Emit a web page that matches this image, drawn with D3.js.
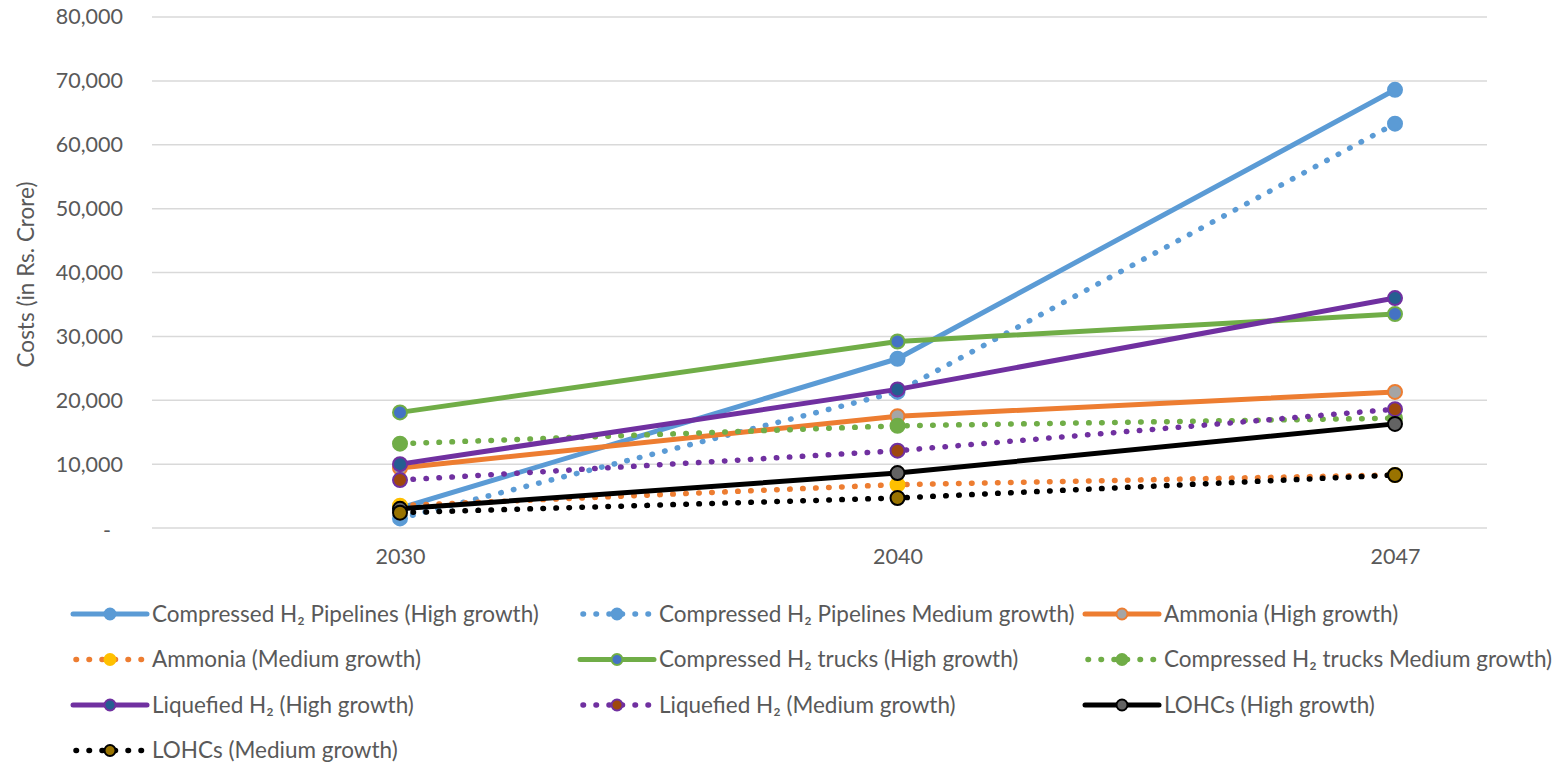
<!DOCTYPE html>
<html>
<head>
<meta charset="utf-8">
<script src="https://cdn.jsdelivr.net/npm/d3@7"></script>
<style>
  body { margin: 0; background: #fff; }
  text { font-family: Lato, "Noto Sans", "DejaVu Sans", sans-serif; fill: #595959; }
</style>
</head>
<body>
<div class="linechart"></div>
<script>
// data
const years = ["2030", "2040", "2047"];
const yTicks = [0, 10000, 20000, 30000, 40000, 50000, 60000, 70000, 80000];

const pipelinesHigh = [3100, 26500, 68600];
const pipelinesMed = [1500, 21300, 63300];
const ammoniaHigh = [9400, 17500, 21300];
const ammoniaMed = [3500, 6800, 8300];
const trucksHigh = [18100, 29200, 33500];
const trucksMed = [13200, 16000, 17200];
const liquefiedHigh = [10000, 21700, 36000];
const liquefiedMed = [7500, 12100, 18600];
const lohcHigh = [3000, 8600, 16300];
const lohcMed = [2400, 4700, 8300];

const seriesNames = [
  "Compressed H\u2082 Pipelines (High growth)",
  "Compressed H\u2082 Pipelines Medium growth)",
  "Ammonia (High growth)",
  "Ammonia (Medium growth)",
  "Compressed H\u2082 trucks (High growth)",
  "Compressed H\u2082 trucks Medium growth)",
  "Liquefied H\u2082 (High growth)",
  "Liquefied H\u2082 (Medium growth)",
  "LOHCs (High growth)",
  "LOHCs (Medium growth)"
];
const seriesValues = [pipelinesHigh, pipelinesMed, ammoniaHigh, ammoniaMed, trucksHigh,
  trucksMed, liquefiedHigh, liquefiedMed, lohcHigh, lohcMed];

// styles: line colour, marker fill, marker border, dotted?
const styles = [
  {c: "#5B9BD5", fill: "#5B9BD5", edge: "#5B9BD5", dot: false},
  {c: "#5B9BD5", fill: "#5B9BD5", edge: "#5B9BD5", dot: true},
  {c: "#ED7D31", fill: "#A5A5A5", edge: "#ED7D31", dot: false},
  {c: "#ED7D31", fill: "#FFC000", edge: "#FFC000", dot: true},
  {c: "#70AD47", fill: "#4472C4", edge: "#70AD47", dot: false},
  {c: "#70AD47", fill: "#70AD47", edge: "#70AD47", dot: true},
  {c: "#7030A0", fill: "#255E91", edge: "#7030A0", dot: false},
  {c: "#7030A0", fill: "#9E480E", edge: "#7030A0", dot: true},
  {c: "#000000", fill: "#636363", edge: "#000000", dot: false},
  {c: "#000000", fill: "#997300", edge: "#000000", dot: true}
];

const W = 1563, H = 765;
const plot = {left: 152, right: 1487, top: 17, bottom: 528};

const svg = d3.select(".linechart")
  .append("svg")
    .attr("width", W)
    .attr("height", H);

const x = d3.scalePoint()
  .domain(years)
  .range([400, 1395]);

const y = d3.scaleLinear()
  .domain([0, 80000])
  .range([plot.bottom, plot.top]);

// gridlines
svg.append("g")
  .selectAll("line")
  .data(yTicks)
  .enter()
  .append("line")
    .attr("x1", plot.left)
    .attr("x2", plot.right)
    .attr("y1", d => y(d))
    .attr("y2", d => y(d))
    .attr("stroke", "#D9D9D9")
    .attr("stroke-width", 1.5);

// Y axis labels
const yAxis = svg.append("g")
  .attr("transform", "translate(" + plot.left + ",0)")
  .call(d3.axisLeft(y).tickValues(yTicks).tickSize(0).tickPadding(29)
    .tickFormat(d => d === 0 ? "-" : d3.format(",")(d)));
yAxis.select(".domain").remove();
yAxis.selectAll("text")
  .style("font-size", "21.5px")
  .attr("fill", "#595959")
  .attr("dx", d => d === 0 ? -12 : 0)
  .attr("dy", d => d === 0 ? "0.45em" : "0.32em");

// X axis labels
const xAxis = svg.append("g")
  .attr("transform", "translate(0," + plot.bottom + ")")
  .call(d3.axisBottom(x).tickSize(0).tickPadding(21));
xAxis.select(".domain").remove();
xAxis.selectAll("text")
  .style("font-size", "21.5px")
  .attr("fill", "#595959");

// y axis title
svg.append("text")
  .attr("text-anchor", "middle")
  .attr("transform", "translate(34," + ((plot.top + plot.bottom) / 2 + 2) + ") rotate(-90)")
  .style("font-size", "22.5px")
  .text("Costs (in Rs. Crore)");

const line = d3.line()
  .x((d, i) => x(years[i]))
  .y(d => y(d));

function styleLine(sel, s) {
  sel.attr("fill", "none")
    .attr("stroke", s.c)
    .attr("stroke-width", s.dot ? 5.5 : 5)
    .attr("stroke-linecap", "round")
    .attr("stroke-linejoin", "round")
    .attr("stroke-dasharray", s.dot ? "0.5 12.5" : null);
}

function styleMarker(sel, s) {
  sel.attr("r", 7)
    .attr("fill", s.fill)
    .attr("stroke", s.edge)
    .attr("stroke-width", 2);
}

// lines and markers
seriesValues.forEach((vals, k) => {
  const s = styles[k];
  const g = svg.append("g");
  g.append("path")
    .datum(vals)
    .attr("d", line)
    .call(styleLine, s);
  g.selectAll("circle")
    .data(vals)
    .enter()
    .append("circle")
      .attr("cx", (d, i) => x(years[i]))
      .attr("cy", d => y(d))
      .call(styleMarker, s);
});

// legend, 3 columns
const legX = [73, 580, 1085];
const legY0 = 614, legStep = 45.5, sampleLen = 74;
const legend = svg.append("g")
  .selectAll("g")
  .data(seriesNames)
  .enter()
  .append("g")
    .attr("transform", (d, i) => "translate(" + legX[i % 3] + "," + (legY0 + Math.floor(i / 3) * legStep) + ")");

legend.each(function(d, i) {
  const g = d3.select(this);
  const s = styles[i];
  g.append("line")
    .attr("x1", s.dot ? 3 : 0)
    .attr("x2", sampleLen)
    .attr("y1", 0)
    .attr("y2", 0)
    .call(styleLine, s);
  g.append("circle")
    .attr("cx", sampleLen / 2)
    .attr("cy", 0)
    .call(styleMarker, s)
    .attr("r", 5.5);
  g.append("text")
    .attr("x", sampleLen + 5)
    .attr("y", 0)
    .attr("dy", "0.35em")
    .style("font-size", "22.5px")
    .text(d);
});
</script>
</body>
</html>
